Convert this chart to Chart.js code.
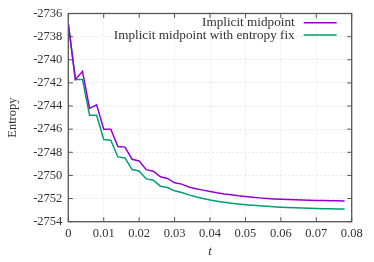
<!DOCTYPE html>
<html>
<head>
<meta charset="utf-8">
<script src="https://cdn.jsdelivr.net/npm/chart.js@4.4.1/dist/chart.umd.min.js"></script>
<style>
    html, body { margin: 0; padding: 0; background: #ffffff; }
    #chartBox { width: 374px; height: 262px; }
</style>
</head>
<body>
<div id="chartBox"><canvas id="myChart"></canvas></div>
<script>
    // time steps (dt = 0.002)
    let tValues = [0, 0.002, 0.004, 0.006, 0.008, 0.010, 0.012, 0.014, 0.016, 0.018,
        0.020, 0.022, 0.024, 0.026, 0.028, 0.030, 0.032, 0.034, 0.036, 0.038,
        0.040, 0.042, 0.044, 0.046, 0.048, 0.050, 0.052, 0.054, 0.056, 0.058,
        0.060, 0.062, 0.064, 0.066, 0.068, 0.070, 0.072, 0.074, 0.076, 0.078];

    let midpoint = [-2736.9, -2741.7, -2741.0, -2744.2, -2743.9, -2746.0, -2746.0, -2747.5, -2747.55, -2748.6,
        -2748.75, -2749.5, -2749.63, -2750.12, -2750.26, -2750.64, -2750.75, -2751.0, -2751.15, -2751.27,
        -2751.38, -2751.5, -2751.6, -2751.68, -2751.76, -2751.82, -2751.88, -2751.94, -2751.99, -2752.03,
        -2752.06, -2752.09, -2752.11, -2752.13, -2752.15, -2752.16, -2752.17, -2752.18, -2752.19, -2752.2];

    let entropyFix = [-2736.9, -2741.7, -2741.7, -2744.8, -2744.8, -2746.9, -2746.96, -2748.4, -2748.49, -2749.49,
        -2749.61, -2750.3, -2750.41, -2750.93, -2751.04, -2751.33, -2751.47, -2751.68, -2751.85, -2752.0,
        -2752.13, -2752.23, -2752.32, -2752.4, -2752.47, -2752.53, -2752.58, -2752.63, -2752.67, -2752.71,
        -2752.74, -2752.77, -2752.79, -2752.81, -2752.83, -2752.85, -2752.87, -2752.88, -2752.9, -2752.91];

    let seriesNames = ['Implicit midpoint', 'Implicit midpoint with entropy fix'];
    let seriesColors = ['#9400d3', '#009e73'];

    let serif = '"Liberation Serif", "DejaVu Serif", serif';

    function toPoints(values) {
        let points = [];
        for (let i = 0; i < tValues.length; i++) {
            points.push({ x: tValues[i], y: values[i] });
        }
        return points;
    }

    // gnuplot style frame with inward ticks on all four sides, plus the legend
    let gnuplotFrame = {
        id: 'gnuplotFrame',
        beforeDatasetsDraw: function (chart) {
            let ctx = chart.ctx;
            let area = chart.chartArea;
            let xs = chart.scales.x;
            let ys = chart.scales.y;
            let len = 4.5;
            ctx.save();
            ctx.strokeStyle = '#555555';
            ctx.lineWidth = 1;
            ctx.beginPath();
            xs.ticks.forEach(function (tk) {
                let px = xs.getPixelForValue(tk.value);
                ctx.moveTo(px, area.bottom);
                ctx.lineTo(px, area.bottom - len);
                ctx.moveTo(px, area.top);
                ctx.lineTo(px, area.top + len);
            });
            ys.ticks.forEach(function (tk) {
                let py = ys.getPixelForValue(tk.value);
                ctx.moveTo(area.left, py);
                ctx.lineTo(area.left + len, py);
                ctx.moveTo(area.right, py);
                ctx.lineTo(area.right - len, py);
            });
            ctx.stroke();
            ctx.lineWidth = 1.3;
            ctx.strokeRect(area.left, area.top, area.right - area.left, area.bottom - area.top);
            ctx.restore();
        },
        afterDatasetsDraw: function (chart) {
            let ctx = chart.ctx;
            let area = chart.chartArea;
            let textRight = area.right - 57;
            let sampleLeft = area.right - 48;
            let sampleRight = area.right - 15;
            ctx.save();
            ctx.font = '13.2px ' + serif;
            ctx.textAlign = 'right';
            ctx.textBaseline = 'middle';
            chart.data.datasets.forEach(function (ds, i) {
                let y = area.top + 9.3 + i * 12.3;
                ctx.fillStyle = '#333333';
                ctx.fillText(ds.label, textRight, y);
                ctx.strokeStyle = ds.borderColor;
                ctx.lineWidth = 1.5;
                ctx.beginPath();
                ctx.moveTo(sampleLeft, y);
                ctx.lineTo(sampleRight, y);
                ctx.stroke();
            });
            ctx.restore();
        }
    };

    let ctx = document.getElementById('myChart').getContext('2d');
    let myChart = new Chart(ctx, {
        type: 'line',
        data: {
            datasets: [{
                label: seriesNames[0],
                data: toPoints(midpoint),
                borderColor: seriesColors[0],
                borderWidth: 1.5,
                pointRadius: 0,
                tension: 0,
                fill: false
            }, {
                label: seriesNames[1],
                data: toPoints(entropyFix),
                borderColor: seriesColors[1],
                borderWidth: 1.5,
                pointRadius: 0,
                tension: 0,
                fill: false
            }]
        },
        options: {
            responsive: true,
            maintainAspectRatio: false,
            animation: false,
            devicePixelRatio: 1,
            layout: {
                padding: { top: 12.7, right: 22.3, bottom: 0, left: 0 }
            },
            plugins: {
                legend: { display: false },
                tooltip: { enabled: false }
            },
            scales: {
                x: {
                    type: 'linear',
                    min: 0,
                    max: 0.08,
                    ticks: {
                        stepSize: 0.01,
                        padding: 5,
                        color: '#333333',
                        font: { family: serif, size: 12.5 },
                        callback: function (value) {
                            return value === 0 ? '0' : value.toFixed(2);
                        }
                    },
                    grid: {
                        color: '#dadada',
                        lineWidth: 0.6,
                        drawTicks: false
                    },
                    border: { display: false, dash: [2, 2] },
                    title: {
                        display: true,
                        text: 't',
                        color: '#333333',
                        font: { family: serif, size: 13, style: 'italic' },
                        padding: { top: 0, bottom: 3 }
                    },
                    afterFit: function (scale) {
                        scale.height = 40.3;
                    }
                },
                y: {
                    min: -2754,
                    max: -2736,
                    ticks: {
                        stepSize: 2,
                        padding: 6,
                        color: '#333333',
                        font: { family: serif, size: 12.5 },
                        callback: function (value) {
                            return String(value);
                        }
                    },
                    grid: {
                        color: '#dadada',
                        lineWidth: 0.6,
                        drawTicks: false
                    },
                    border: { display: false, dash: [2, 2] },
                    title: {
                        display: true,
                        text: 'Entropy',
                        color: '#333333',
                        font: { family: serif, size: 12.5 },
                        padding: { top: 5, bottom: 0 }
                    },
                    afterFit: function (scale) {
                        scale.width = 68.3;
                    }
                }
            }
        },
        plugins: [gnuplotFrame]
    });
</script>
</body>
</html>
